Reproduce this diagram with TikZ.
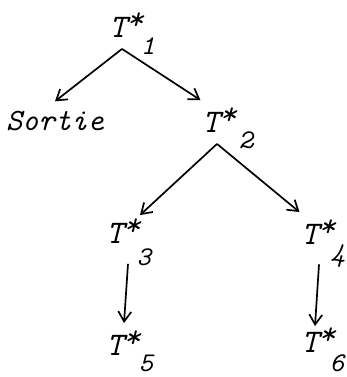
\documentclass[tikz,border=0pt]{standalone}
\usepackage{fontspec}
\usetikzlibrary{arrows.meta,positioning}
\newcommand{\tstar}{T\rlap{\smash{\raisebox{8pt}{\fontsize{32}{32}\selectfont *}}}}

\begin{document}
\begin{tikzpicture}[
    x=1pt, y=-1pt,
    tnode/.style={inner xsep=1pt, inner ysep=11pt, font=\ttfamily\itshape\fontsize{33}{35}\selectfont},
    num/.style={inner sep=0pt, font=\ttfamily\itshape\fontsize{27}{30}\selectfont},
    word/.style={inner sep=0pt, font=\ttfamily\itshape\fontsize{31}{34}\selectfont},
    >={Straight Barb[length=10pt,width=13pt]}, line width=1.7pt
]
\useasboundingbox (0,0) rectangle (347,377);
\node[tnode] (t1) at (118,27) {\tstar};
\node[num] (n1) at (148,46) {1};
\node[word] (sortie) at (55,121) {Sortie};
\node[tnode] (t2) at (211,122) {\tstar};
\node[num] (n2) at (246,140) {2};
\node[tnode] (t3) at (115,233) {\tstar};
\node[num] (n3) at (144,257) {3};
\node[tnode] (t4) at (310,234) {\tstar};
\node[num] (n4) at (338,256) {4};
\node[tnode] (t5) at (115,345) {\tstar};
\node[num] (n5) at (146,363) {5};
\node[tnode] (t6) at (310,342) {\tstar};
\node[num] (n6) at (337,363) {6};
\draw[->] ([xshift=4pt]t1.south) -- ([yshift=9pt]sortie.north);
\draw[->] ([xshift=4pt]t1.south) -- (t2.north west);
\draw[->] ([xshift=6pt]t2.south) -- ([xshift=25pt,yshift=-4pt]t3.north);
\draw[->] ([xshift=6pt]t2.south) -- (t4.north west);
\draw[->] ([xshift=13pt,yshift=-9pt]t3.south) -- ([xshift=9pt]t5.north);
\draw[->] ([xshift=9pt,yshift=-8.5pt]t4.south) -- ([xshift=5pt,yshift=-6pt]t6.north);
\end{tikzpicture}
\end{document}
